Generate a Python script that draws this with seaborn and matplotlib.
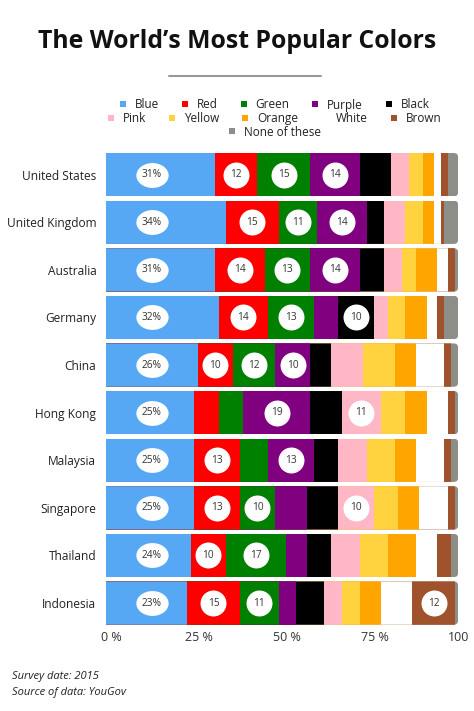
import numpy as np
import pandas as pd
import matplotlib
matplotlib.use("Agg")
import matplotlib.pyplot as plt
import seaborn as sns
from matplotlib.lines import Line2D
from matplotlib.path import Path
from matplotlib.transforms import Affine2D, ScaledTranslation
from matplotlib.patches import FancyBboxPatch

countries = ["United States", "United Kingdom", "Australia", "Germany", "China",
             "Hong Kong", "Malaysia", "Singapore", "Thailand", "Indonesia"]
color_names = ["Blue", "Red", "Green", "Purple", "Black", "Pink", "Yellow",
               "Orange", "White", "Brown", "None of these"]
blue   = [31, 34, 31, 32, 26, 25, 25, 25, 24, 23]
red    = [12, 15, 14, 14, 10, 7, 13, 13, 10, 15]
green  = [15, 11, 13, 13, 12, 7, 8, 10, 17, 11]
purple = [14, 14, 14, 7, 10, 19, 13, 9, 6, 5]
black  = [9, 5, 7, 10, 6, 9, 7, 9, 7, 8]
pink   = [5, 6, 5, 4, 9, 11, 8, 10, 8, 5]
yellow = [4, 5, 4, 5, 9, 7, 8, 7, 8, 5]
orange = [3, 3, 6, 6, 6, 6, 6, 6, 8, 6]
white  = [2, 2, 3, 3, 8, 6, 8, 8, 6, 9]
brown  = [2, 1, 2, 2, 2, 2, 2, 2, 4, 12]
none_of_these = [3, 4, 1, 4, 2, 1, 2, 1, 2, 1]
tick_values = [0, 25, 50, 75, 100]
tick_labels = ["0 %", "25 %", "50 %", "75 %", "100"]

palette = ["#56A8F5", "#FF0000", "#008000", "#800080", "#000000", "#FFB7C5",
           "#FFD23F", "#FFA500", "#FFFFFF", "#A0522D", "#8E8E88"]

series = [blue, red, green, purple, black, pink, yellow, orange, white, brown, none_of_these]
df = pd.DataFrame(dict(zip(color_names, series)), index=countries)
cum = df.cumsum(axis=1)

sns.set_theme(style="white")
plt.rcParams['font.family'] = ['Open Sans', 'DejaVu Sans']

fig = plt.figure(figsize=(4.74, 7.11), dpi=100)
ax = fig.add_axes([106 / 474, 0.1183, (460 - 106) / 474, 0.7878 - 0.1183])

bar_h = 0.91
for i in range(len(color_names) - 1, -1, -1):
    name = color_names[i]
    plot_df = pd.DataFrame({"country": countries, "value": cum[name].values})
    sns.barplot(data=plot_df, x="value", y="country", orient="y", color=palette[i],
                saturation=1, width=bar_h, ax=ax, linewidth=0, order=countries)

ax.set_xlim(0, 100.5)
ax.set_ylim(len(countries) - 0.5, -0.5)

# rounded right ends
for j, c in enumerate(countries):
    clip = FancyBboxPatch((-8, j - bar_h / 2), cum.loc[c].iloc[-1] + 8, bar_h,
                          boxstyle="round,pad=0,rounding_size=1.3",
                          mutation_aspect=0.075, transform=ax.transData,
                          facecolor="none", edgecolor="none")
    ax.add_patch(clip)
    clip.set_visible(False)
    for p in ax.patches:
        if isinstance(p, FancyBboxPatch):
            continue
        cy = p.get_y() + p.get_height() / 2
        if abs(cy - j) < 0.3:
            p.set_clip_path(clip)

ellipse_marker = Path.unit_circle().transformed(Affine2D().scale(1.0, 0.77))

for j, c in enumerate(countries):
    for i, name in enumerate(color_names):
        v = df.loc[c, name]
        if v < 10:
            continue
        if i == 0:
            xc = 13
            ax.scatter([xc], [j], s=540, marker=ellipse_marker, color="white",
                       linewidths=0, zorder=5)
            ax.text(xc, j, f"{v}%", ha="center", va="center", fontsize=7.3,
                    color="#333333", zorder=6)
        else:
            xc = cum.loc[c, name] - v / 2
            ax.scatter([xc], [j], s=350, marker="o", color="white",
                       linewidths=0, zorder=5)
            ax.text(xc, j, f"{v}", ha="center", va="center", fontsize=7.3,
                    color="#333333", zorder=6)

for s in ax.spines.values():
    s.set_visible(False)
ax.set_xlabel("")
ax.set_ylabel("")
ax.set_xticks(tick_values)
ax.set_xticklabels(tick_labels)
ax.tick_params(axis="x", length=0, pad=3, labelsize=9, labelcolor="#333333")
ax.tick_params(axis="y", length=0, pad=7, labelsize=8.6, labelcolor="#222222")
ax.grid(False)
for lab in ax.get_xticklabels()[:-1]:
    lab.set_transform(lab.get_transform() + ScaledTranslation(0.05, 0, fig.dpi_scale_trans))

# Title and rule
fig.text(0.5, 1 - 42 / 711, "The World\u2019s Most Popular Colors", ha="center",
         va="center", fontsize=17.8, fontweight="bold", color="#111111")
fig.add_artist(Line2D([169 / 474, 321 / 474], [1 - 75.5 / 711] * 2,
                      color="#999999", linewidth=1.5, transform=fig.transFigure))

# Legend in three centred rows
rows = [color_names[0:5], color_names[5:10], color_names[10:]]
row_y = [105, 118.5, 132]
for names, yy in zip(rows, row_y):
    handles = [Line2D([], [], marker="s", linestyle="none", markersize=5,
                      markerfacecolor=palette[color_names.index(n)],
                      markeredgewidth=0) for n in names]
    leg = fig.legend(handles, names, loc="center", bbox_to_anchor=(274 / 474, 1 - yy / 711),
                     ncol=len(names), frameon=False, fontsize=8.5, handlelength=0.8,
                     handletextpad=0.6, columnspacing=1.8, borderpad=0, borderaxespad=0)
    for t in leg.get_texts():
        t.set_color("#222222")

fig.text(12 / 474, 1 - 676 / 711, "Survey date: 2015", ha="left", va="center",
         fontsize=8, style="italic", color="#222222")
fig.text(12 / 474, 1 - 692 / 711, "Source of data: YouGov", ha="left", va="center",
         fontsize=8, style="italic", color="#222222")

fig.savefig("out.png", dpi=100)
